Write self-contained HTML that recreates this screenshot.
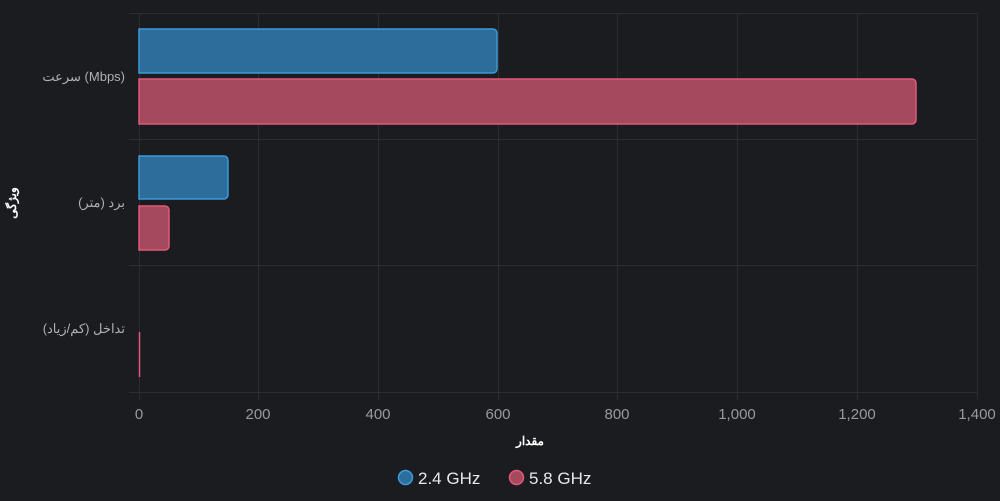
<!DOCTYPE html>
<html><head><meta charset="utf-8"><style>
html,body{margin:0;padding:0;background:#1b1c20;}
svg{display:block;font-family:"Liberation Sans","Noto Sans CJK SC",sans-serif;}
</style></head><body>
<svg width="1000" height="501" viewBox="0 0 1000 501">
<rect width="1000" height="501" fill="#1b1c20"/>
<g stroke="#2c2d31" stroke-width="1">
<line x1="139.5" y1="13" x2="139.5" y2="400"/>
<line x1="258.5" y1="13" x2="258.5" y2="400"/>
<line x1="378.5" y1="13" x2="378.5" y2="400"/>
<line x1="498.5" y1="13" x2="498.5" y2="400"/>
<line x1="617.5" y1="13" x2="617.5" y2="400"/>
<line x1="737.5" y1="13" x2="737.5" y2="400"/>
<line x1="857.5" y1="13" x2="857.5" y2="400"/>
<line x1="977.5" y1="13" x2="977.5" y2="400"/>
<line x1="129" y1="13.5" x2="977" y2="13.5"/>
<line x1="129" y1="139.5" x2="977" y2="139.5"/>
<line x1="129" y1="265.5" x2="977" y2="265.5"/>
<line x1="129" y1="392.5" x2="977" y2="392.5"/>
</g>
<g stroke-width="1.5">
<path d="M139,29 H493 a4,4 0 0 1 4,4 V69 a4,4 0 0 1 -4,4 H139 Z" fill="#2c6d9c" stroke="#3b9ada"/>
<path d="M139,79 H912 a4,4 0 0 1 4,4 V120 a4,4 0 0 1 -4,4 H139 Z" fill="#a5495e" stroke="#e2587a"/>
<path d="M139,156 H224 a4,4 0 0 1 4,4 V195 a4,4 0 0 1 -4,4 H139 Z" fill="#2c6d9c" stroke="#3b9ada"/>
<path d="M139,206 H165 a4,4 0 0 1 4,4 V246 a4,4 0 0 1 -4,4 H139 Z" fill="#a5495e" stroke="#e2587a"/>
<line x1="139.5" y1="332" x2="139.5" y2="377" stroke="#e2587a"/>
</g>
<g fill="#b0b0b4" font-size="13" text-anchor="end">
<text x="125" y="81">سرعت (Mbps)</text>
<text x="125" y="207">برد (متر)</text>
<text x="125" y="333">تداخل (کم/زیاد)</text>
</g>
<g fill="#9a9a9e" font-size="15" text-anchor="middle">
<text x="139" y="419">0</text>
<text x="258" y="419">200</text>
<text x="378" y="419">400</text>
<text x="498" y="419">600</text>
<text x="617" y="419">800</text>
<text x="737" y="419">1,000</text>
<text x="857" y="419">1,200</text>
<text x="977" y="419">1,400</text>
</g>
<text x="530" y="445" fill="#fff" font-size="12" font-weight="bold" text-anchor="middle">مقدار</text>
<text transform="translate(16,203) rotate(-90)" fill="#fff" font-size="12" font-weight="bold" text-anchor="middle">ویژگی</text>
<circle cx="405.5" cy="477.5" r="7" fill="#2c6d9c" stroke="#3b9ada" stroke-width="1.5"/>
<text x="418" y="484" fill="#e8e8ea" font-size="17">2.4 GHz</text>
<circle cx="516.5" cy="477.5" r="7" fill="#a5495e" stroke="#e2587a" stroke-width="1.5"/>
<text x="529" y="484" fill="#e8e8ea" font-size="17">5.8 GHz</text>
</svg>
</body></html>
